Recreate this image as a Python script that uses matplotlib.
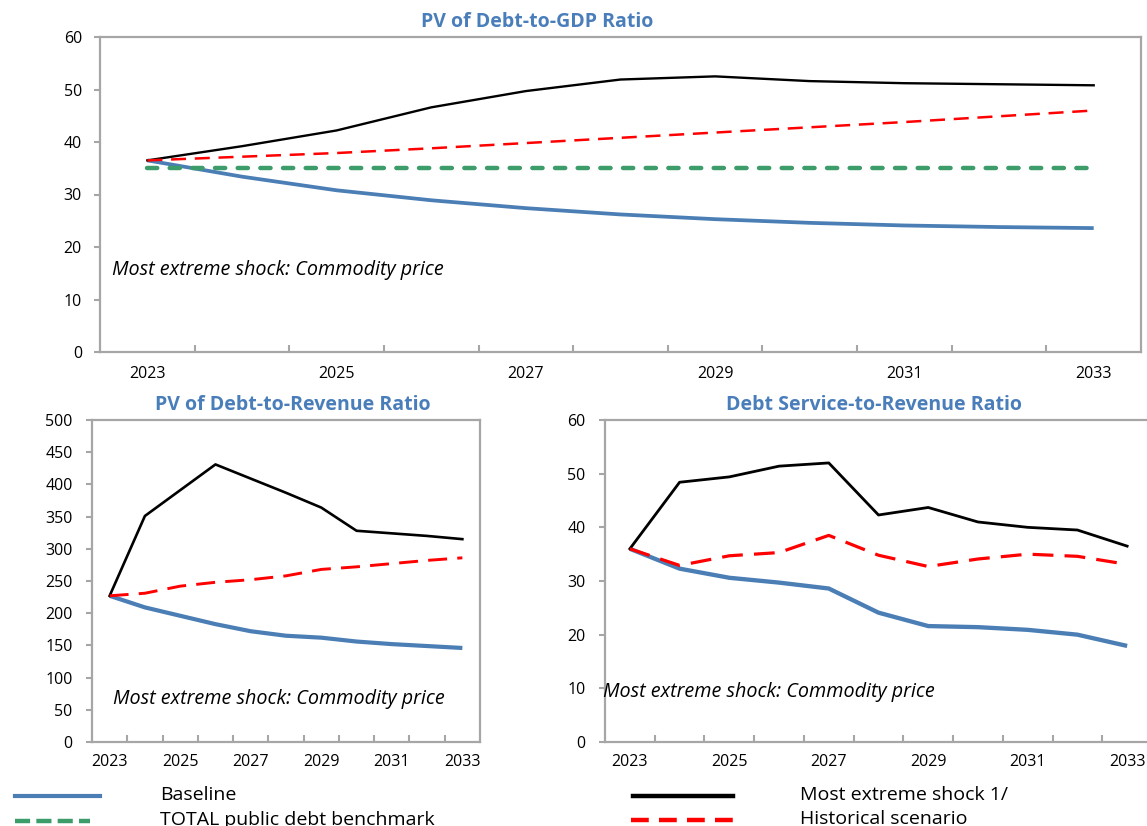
import matplotlib
matplotlib.use("Agg")
import matplotlib.pyplot as plt
from matplotlib.lines import Line2D

plt.rcParams['font.family'] = ['Open Sans', 'DejaVu Sans']

years = list(range(2023, 2034))
tick_labels = [str(y) if (y - 2023) % 2 == 0 else "" for y in years]

# PV of Debt-to-GDP
gdp_baseline = [36.5, 33.4, 30.8, 28.9, 27.4, 26.2, 25.3, 24.6, 24.1, 23.8, 23.6]
gdp_benchmark = [35, 35, 35, 35, 35, 35, 35, 35, 35, 35, 35]
gdp_shock = [36.5, 39.2, 42.2, 46.6, 49.7, 51.9, 52.5, 51.6, 51.2, 51.0, 50.8]
gdp_hist = [36.5, 37.2, 37.9, 38.8, 39.8, 40.8, 41.8, 42.8, 43.8, 44.9, 46.0]

# PV of Debt-to-Revenue
rev_baseline = [227, 209, 196, 183, 172, 165, 162, 156, 152, 149, 146]
rev_shock = [227, 351, 391, 431, 409, 387, 364, 328, 324, 320, 315]
rev_hist = [227, 231, 242, 248, 252, 258, 268, 272, 277, 282, 286]

# Debt Service-to-Revenue
ds_baseline = [36.0, 32.3, 30.6, 29.7, 28.6, 24.1, 21.6, 21.4, 20.9, 20.0, 17.9]
ds_shock = [36.0, 48.4, 49.4, 51.4, 52.0, 42.3, 43.7, 41.0, 40.0, 39.5, 36.5]
ds_hist = [36.0, 32.9, 34.7, 35.3, 38.5, 34.8, 32.7, 34.1, 35.0, 34.6, 33.1]

BLUE = '#4A7EB5'
GREEN = '#3C9D6A'
RED = '#FF0000'
TITLE = '#4A7EBB'
SPINE = '#A6A6A6'

W, H = 1147, 826
fig = plt.figure(figsize=(W / 100, H / 100), dpi=100)


def make_ax(l, r, t, b):
    return fig.add_axes([l / W, 1 - b / H, (r - l) / W, (b - t) / H])


def style(ax, ymax, ystep, xpad=11, ypad=11):
    n = len(years)
    ax.set_xlim(-0.5, n - 0.5)
    ax.set_ylim(0, ymax)
    ax.set_yticks(range(0, ymax + 1, ystep))
    ax.set_xticks([i + 0.5 for i in range(n - 1)])
    ax.set_xticklabels([])
    ax.set_xticks(range(n), minor=True)
    ax.set_xticklabels(tick_labels, minor=True)
    ax.tick_params(axis='x', which='major', direction='in', length=5, width=1.5, color=SPINE)
    ax.tick_params(axis='x', which='minor', length=0, pad=xpad, labelsize=11.5)
    ax.tick_params(axis='y', direction='out', length=4, width=1.5, color=SPINE,
                   pad=ypad, labelsize=11.5)
    for s in ax.spines.values():
        s.set_color(SPINE)
        s.set_linewidth(1.6)


x = list(range(len(years)))
NOTE = 'Most extreme shock: Commodity price'

# Top panel
ax1 = make_ax(100, 1141, 37, 352)
style(ax1, 60, 10, xpad=10, ypad=9)
ax1.plot(x, gdp_baseline, color=BLUE, lw=2.7, solid_capstyle='butt')
ax1.plot(x, gdp_benchmark, color=GREEN, lw=3.2, dashes=(2.3, 2.8), dash_capstyle='round')
ax1.plot(x, gdp_shock, color='black', lw=1.7)
ax1.plot(x, gdp_hist, color=RED, lw=1.8, dashes=(6.0, 3.5))
ax1.text((112 - 100) / 1041, (352 - 270) / 315, NOTE,
         transform=ax1.transAxes, style='italic', fontsize=14.2, va='center', ha='left')
fig.text(537 / W, 1 - 22 / H, 'PV of Debt-to-GDP Ratio', color=TITLE, fontweight='bold',
         fontsize=14, ha='center', va='center')

# Bottom-left panel
ax2 = make_ax(92, 480, 420, 742)
style(ax2, 500, 50, xpad=9, ypad=10)
ax2.plot(x, rev_baseline, color=BLUE, lw=3.0, solid_capstyle='butt')
ax2.plot(x, rev_shock, color='black', lw=1.9)
ax2.plot(x, rev_hist, color=RED, lw=2.1, dashes=(6.5, 3.5))
ax2.text((113 - 92) / 388, (742 - 699) / 322, NOTE,
         transform=ax2.transAxes, style='italic', fontsize=14.2, va='center', ha='left')
fig.text(293 / W, 1 - 405 / H, 'PV of Debt-to-Revenue Ratio', color=TITLE, fontweight='bold',
         fontsize=14, ha='center', va='center')

# Bottom-right panel
ax3 = make_ax(605, 1152, 420, 742)
style(ax3, 60, 10, xpad=9, ypad=10)
ax3.plot(x, ds_baseline, color=BLUE, lw=3.1, solid_capstyle='butt')
ax3.plot(x, ds_shock, color='black', lw=2.0)
ax3.plot(x, ds_hist, color=RED, lw=2.3, dashes=(6.5, 3.5))
ax3.text((603 - 605) / 547, (742 - 692) / 322, NOTE,
         transform=ax3.transAxes, style='italic', fontsize=14.2, va='center', ha='left')
fig.text(874 / W, 1 - 405 / H, 'Debt Service-to-Revenue Ratio', color=TITLE, fontweight='bold',
         fontsize=14, ha='center', va='center')

# Legend
legend_items = [
    ('Baseline', dict(color=BLUE, lw=3.0), 15, 100, 160, 796),
    ('TOTAL public debt benchmark', dict(color=GREEN, lw=3.2, dashes=(3.4, 1.4)), 15, 90, 160, 821),
    ('Most extreme shock 1/', dict(color='black', lw=3.2), 633, 733, 800, 796),
    ('Historical scenario', dict(color=RED, lw=3.2, dashes=(4.0, 2.3)), 631, 735, 800, 820),
]
for label, kw, x0, x1, tx, ty in legend_items:
    fig.add_artist(Line2D([x0 / W, x1 / W], [1 - ty / H, 1 - ty / H],
                          transform=fig.transFigure, **kw))
    fig.text(tx / W, 1 - (ty - 1) / H, label, fontsize=14, ha='left', va='center')

fig.savefig('out.png', dpi=100)
